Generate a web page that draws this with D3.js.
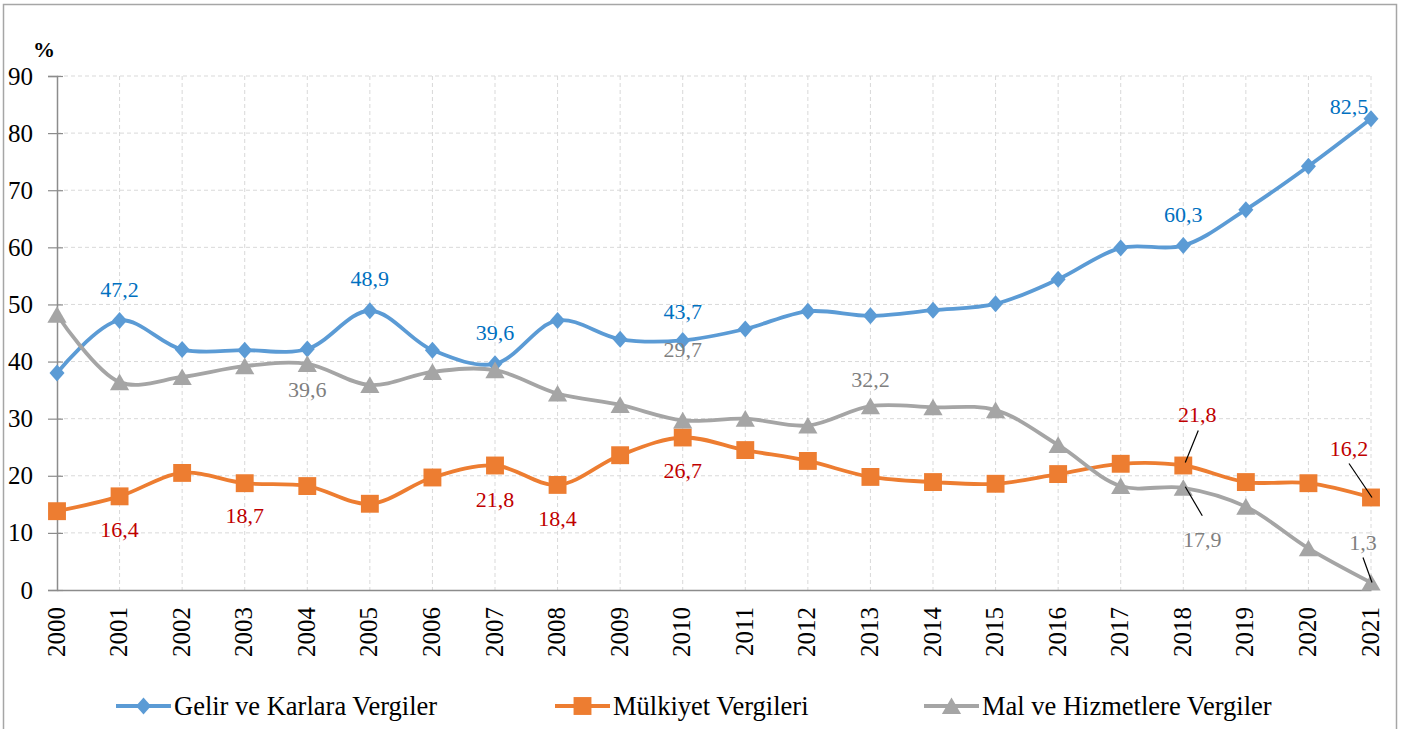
<!DOCTYPE html>
<html>
<head>
<meta charset="utf-8">
<script src="https://cdn.jsdelivr.net/npm/d3@7"></script>
<style>
  body { margin: 0; background: #fff; }
  svg { display: block; }
  svg text { font-family: "Liberation Serif", "Times New Roman", serif; }
</style>
</head>
<body>
<svg width="1403" height="729"></svg>
<script>
// data (% values)
const years = ["2000","2001","2002","2003","2004","2005","2006","2007","2008","2009","2010",
  "2011","2012","2013","2014","2015","2016","2017","2018","2019","2020","2021"];
const gelir = [38.0,47.2,42.1,42.0,42.2,48.9,42.0,39.6,47.2,43.9,43.7,
  45.7,48.8,48.0,49.0,50.1,54.4,59.9,60.3,66.6,74.2,82.5];
const mulkiyet = [13.8,16.4,20.5,18.7,18.2,15.1,19.7,21.8,18.4,23.6,26.7,
  24.5,22.6,19.8,18.9,18.6,20.3,22.1,21.8,18.9,18.7,16.2];
const malHizmet = [48.2,36.4,37.3,39.2,39.6,35.9,38.2,38.5,34.4,32.4,29.7,
  30.0,28.8,32.2,32.0,31.5,25.4,18.2,17.9,14.6,7.3,1.3];
const yTicks = [0,10,20,30,40,50,60,70,80,90];
const seriesNames = ["Gelir ve Karlara Vergiler","Mülkiyet Vergileri","Mal ve Hizmetlere Vergiler"];
// which points carry a value label (series index, year index)
const labelled = [
  [0,1],[0,5],[0,7],[0,10],[0,18],[0,21],
  [1,1],[1,3],[1,7],[1,8],[1,10],[1,18],[1,21],
  [2,4],[2,10],[2,13],[2,18],[2,21]
];

const svg = d3.select("svg");
const colors = ["#5B9BD5","#ED7D31","#A5A5A5"];
const labelColors = ["#0070C0","#C00000","#7F7F7F"];
const allSeries = [gelir, mulkiyet, malHizmet];

// outer frame
svg.append("rect")
  .attr("x", 3.5).attr("y", 4.5)
  .attr("width", 1393).attr("height", 740)
  .attr("fill", "none").attr("stroke", "#A6A6A6").attr("stroke-width", 1.5);

const x = d3.scalePoint().domain(years).range([57, 1371]);
const y = d3.scaleLinear().domain([0, 90]).range([590, 76]);

const graf = svg.append("g");

// horizontal grid
graf.append("g").selectAll("line")
  .data(yTicks.filter(d => d > 0))
  .join("line")
  .attr("x1", 57).attr("x2", 1371)
  .attr("y1", d => y(d)).attr("y2", d => y(d))
  .attr("stroke", "#D9D9D9").attr("stroke-width", 1).attr("stroke-dasharray", "4,3");
// vertical grid
graf.append("g").selectAll("line")
  .data(years.slice(1))
  .join("line")
  .attr("x1", d => x(d)).attr("x2", d => x(d))
  .attr("y1", y(90)).attr("y2", y(0))
  .attr("stroke", "#D9D9D9").attr("stroke-width", 1).attr("stroke-dasharray", "4,3");

// y axis (tick marks cross the axis line)
const yAxis = graf.append("g")
  .attr("transform", `translate(${x(years[0])},0)`)
  .call(d3.axisLeft(y).tickValues(yTicks).tickSize(9).tickPadding(15));
yAxis.attr("font-family", null);
yAxis.select(".domain").attr("stroke", "#8C8C8C").attr("stroke-width", 1.5);
yAxis.selectAll(".tick line").attr("x1", 6).attr("stroke", "#8C8C8C").attr("stroke-width", 1.2);
yAxis.selectAll(".tick text")
  .attr("font-size", 25).attr("fill", "#000");

// x axis
const xAxis = graf.append("g")
  .attr("transform", `translate(0,${y(0)})`)
  .call(d3.axisBottom(x).tickSize(0).tickPadding(0));
xAxis.attr("font-family", null);
xAxis.select(".domain").attr("stroke", "#8C8C8C").attr("stroke-width", 1.5);
xAxis.selectAll(".tick text")
  .attr("font-size", 25).attr("fill", "#000")
  .attr("text-anchor", "end")
  .attr("y", 0)
  .attr("dy", null)
  .attr("transform", "translate(7,17) rotate(-90)");

// % unit label
svg.append("text")
  .text("%")
  .attr("x", 44).attr("y", 57)
  .attr("text-anchor", "middle")
  .attr("font-size", 22).attr("font-weight", "bold");

// lines
const line = d3.line()
  .x((d, i) => x(years[i]))
  .y(d => y(d))
  .curve(d3.curveCatmullRom.alpha(0.5));

// Excel style diamond: a little taller than wide
const diamond = {
  draw(ctx, size) {
    const w = 7.5, h = 8.5;
    ctx.moveTo(0, -h); ctx.lineTo(w, 0); ctx.lineTo(0, h); ctx.lineTo(-w, 0); ctx.closePath();
  }
};
const symbolTypes = [diamond, d3.symbolSquare, d3.symbolTriangle];
const symbolSizes = [0, 320, 160];
const symbolDy = [0, 0, 2.5];

allSeries.forEach((vals, s) => {
  graf.append("path")
    .attr("d", line(vals))
    .attr("fill", "none")
    .attr("stroke", colors[s])
    .attr("stroke-width", 3.8);
});
allSeries.forEach((vals, s) => {
  graf.append("g").selectAll("path")
    .data(vals)
    .join("path")
    .attr("transform", (d, i) => `translate(${x(years[i])},${y(d) + symbolDy[s]})`)
    .attr("d", d3.symbol().type(symbolTypes[s]).size(symbolSizes[s]))
    .attr("fill", colors[s]);
});

// value labels: offsets from the point, plus optional leader lines
const placement = {
  "0-1": [0, -31], "0-5": [0, -32], "0-7": [0, -31], "0-10": [0, -29],
  "0-18": [0, -31], "0-21": [-22, -12],
  "1-1": [0, 33], "1-3": [0, 32], "1-7": [0, 34], "1-8": [0, 34], "1-10": [0, 33],
  "1-18": [14, -51, [2, -3, 15, -35]], "1-21": [-22, -49, [1, 0, -22, -34]],
  "2-4": [0, 26], "2-10": [0, -71], "2-13": [0, -27],
  "2-18": [19, 52, [2, -1, 19, 28]], "2-21": [-8, -40, [1, 0, -8, -25]]
};
const fmt = v => String(v.toFixed(1)).replace(".", ",");
labelled.forEach(([s, i]) => {
  const v = allSeries[s][i];
  const px = x(years[i]), py = y(v);
  const p = placement[`${s}-${i}`];
  if (p[2]) {
    graf.append("line")
      .attr("x1", px + p[2][0]).attr("y1", py + p[2][1])
      .attr("x2", px + p[2][2]).attr("y2", py + p[2][3])
      .attr("stroke", "#000").attr("stroke-width", 1.2);
  }
  graf.append("text")
    .text(fmt(v))
    .attr("x", px + p[0]).attr("y", py + p[1])
    .attr("text-anchor", "middle")
    .attr("dominant-baseline", "central")
    .attr("font-size", 22)
    .attr("fill", labelColors[s]);
});

// legend
const legendX = [116, 555, 924];
const legend = svg.append("g").attr("transform", "translate(0,706)");
seriesNames.forEach((name, s) => {
  const lg = legend.append("g").attr("transform", `translate(${legendX[s]},0)`);
  lg.append("line")
    .attr("x1", 0).attr("x2", 55).attr("y1", 0).attr("y2", 0)
    .attr("stroke", colors[s]).attr("stroke-width", 3.8);
  lg.append("path")
    .attr("transform", `translate(27.5,${symbolDy[s]})`)
    .attr("d", d3.symbol().type(symbolTypes[s]).size(symbolSizes[s]))
    .attr("fill", colors[s]);
  lg.append("text")
    .text(name)
    .attr("x", 58).attr("y", 0)
    .attr("dominant-baseline", "central")
    .attr("font-size", 26.5).attr("fill", "#000");
});
</script>
</body>
</html>
